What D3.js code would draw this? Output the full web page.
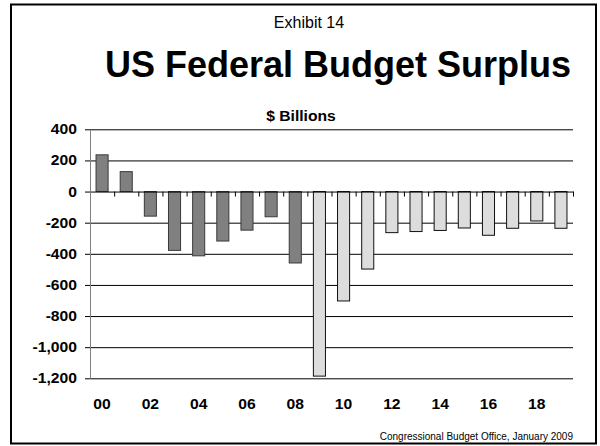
<!DOCTYPE html>
<html>
<head>
<meta charset="utf-8">
<script src="https://cdn.jsdelivr.net/npm/d3@7"></script>
<style>
  html, body { margin: 0; padding: 0; background: #fff; }
  svg { display: block; font-family: "Liberation Sans", Arial, sans-serif; }
</style>
</head>
<body>
<svg id="chart" width="600" height="446"></svg>
<script>
// Fiscal years 2000-2019 (two-digit labels)
const years = ["00","01","02","03","04","05","06","07","08","09",
               "10","11","12","13","14","15","16","17","18","19"];
// Budget surplus (+) / deficit (-), $ billions
const surplus = [236, 128, -158, -378, -413, -318, -248, -162, -459, -1186,
                 -703, -498, -264, -257, -250, -234, -281, -236, -189, -236];
// Actual results vs. projections
const status = ["actual","actual","actual","actual","actual","actual","actual","actual","actual",
                "projected","projected","projected","projected","projected","projected",
                "projected","projected","projected","projected","projected"];
const yTicks = [400, 200, 0, -200, -400, -600, -800, -1000, -1200];
const xLabels = ["00","02","04","06","08","10","12","14","16","18"];

const svg = d3.select("#chart");
const plot = { left: 90, right: 573, top: 129.3, bottom: 378.3 };
const stretch = 1.12;

const fmt = d3.formatLocale({ decimal: ".", thousands: ",", grouping: [3],
                              currency: ["$", ""], minus: "-" }).format(",");

const x = d3.scaleBand().domain(years)
  .range([plot.left, plot.right]).paddingInner(0.5).paddingOuter(0.25);
const xEdge = d3.scaleLinear().domain([0, years.length]).range([plot.left, plot.right]);
const y = d3.scaleLinear().domain([-1200, 400]).range([plot.bottom, plot.top]);

// outer frame
svg.append("rect")
  .attr("x", 11).attr("y", 4.5).attr("width", 585).attr("height", 439)
  .attr("fill", "none").attr("stroke", "#000").attr("stroke-width", 2);

// headings
svg.append("text").attr("x", 309).attr("y", 28)
  .attr("text-anchor", "middle").attr("font-size", 16).attr("fill", "#000")
  .text("Exhibit 14");
svg.append("text").attr("x", 338).attr("y", 77)
  .attr("text-anchor", "middle").attr("font-size", 36).attr("font-weight", "bold")
  .attr("fill", "#000").text("US Federal Budget Surplus");
svg.append("text")
  .attr("transform", `translate(301,121) scale(${stretch},1)`)
  .attr("text-anchor", "middle").attr("font-size", 14).attr("font-weight", "bold")
  .attr("fill", "#000").text("$ Billions");

// horizontal gridlines
const grid = svg.append("g").attr("transform", `translate(${plot.left},0)`)
  .call(d3.axisLeft(y).tickValues(yTicks.filter(d => d !== 0))
    .tickSize(-(plot.right - plot.left)).tickFormat(""));
grid.select(".domain").remove();
grid.selectAll("line").attr("stroke", "#000").attr("stroke-width", 1);

// bars
svg.append("g").selectAll("rect")
  .data(years.map((yr, i) => ({ yr, v: surplus[i], s: status[i] })))
  .join("rect")
  .attr("x", d => x(d.yr))
  .attr("width", x.bandwidth())
  .attr("y", d => y(Math.max(0, d.v)))
  .attr("height", d => Math.abs(y(d.v) - y(0)))
  .attr("fill", d => d.s === "actual" ? "#808080" : "#dddddd")
  .attr("stroke", d => d.s === "actual" ? "#3a3a3a" : "#111")
  .attr("stroke-width", 1);

// zero line with category separators
const zero = svg.append("g").attr("transform", `translate(0,${y(0)})`)
  .call(d3.axisBottom(xEdge).ticks(years.length).tickSize(5).tickSizeOuter(0).tickFormat(""));
zero.select(".domain").attr("stroke", "#000");
zero.selectAll(".tick line").attr("stroke", "#000");

// value axis
const yAxis = svg.append("g").attr("transform", `translate(${plot.left},0)`)
  .call(d3.axisLeft(y).tickValues(yTicks).tickSize(5).tickSizeOuter(0).tickFormat(fmt));
yAxis.select(".domain").attr("stroke", "#808080");
yAxis.selectAll(".tick line").attr("stroke", "#000");
yAxis.selectAll(".tick text")
  .attr("x", -13 / stretch)
  .attr("transform", `scale(${stretch},1)`)
  .attr("font-size", 14).attr("font-weight", "bold")
  .attr("font-family", "Liberation Sans, Arial, sans-serif").attr("fill", "#000");

// year labels
const xAxis = svg.append("g").attr("transform", `translate(0,${plot.bottom})`)
  .call(d3.axisBottom(x).tickValues(xLabels).tickSize(0).tickPadding(21));
xAxis.select(".domain").remove();
xAxis.selectAll(".tick text")
  .attr("transform", `scale(${stretch},1)`)
  .attr("font-size", 14).attr("font-weight", "bold")
  .attr("font-family", "Liberation Sans, Arial, sans-serif").attr("fill", "#000");
xAxis.selectAll(".tick").attr("transform", d => `translate(${x(d) + x.bandwidth() / 2},0)`);

// source note
svg.append("text").attr("x", 573).attr("y", 440)
  .attr("text-anchor", "end").attr("font-size", 10).attr("fill", "#000")
  .text("Congressional Budget Office, January 2009");
</script>
</body>
</html>
